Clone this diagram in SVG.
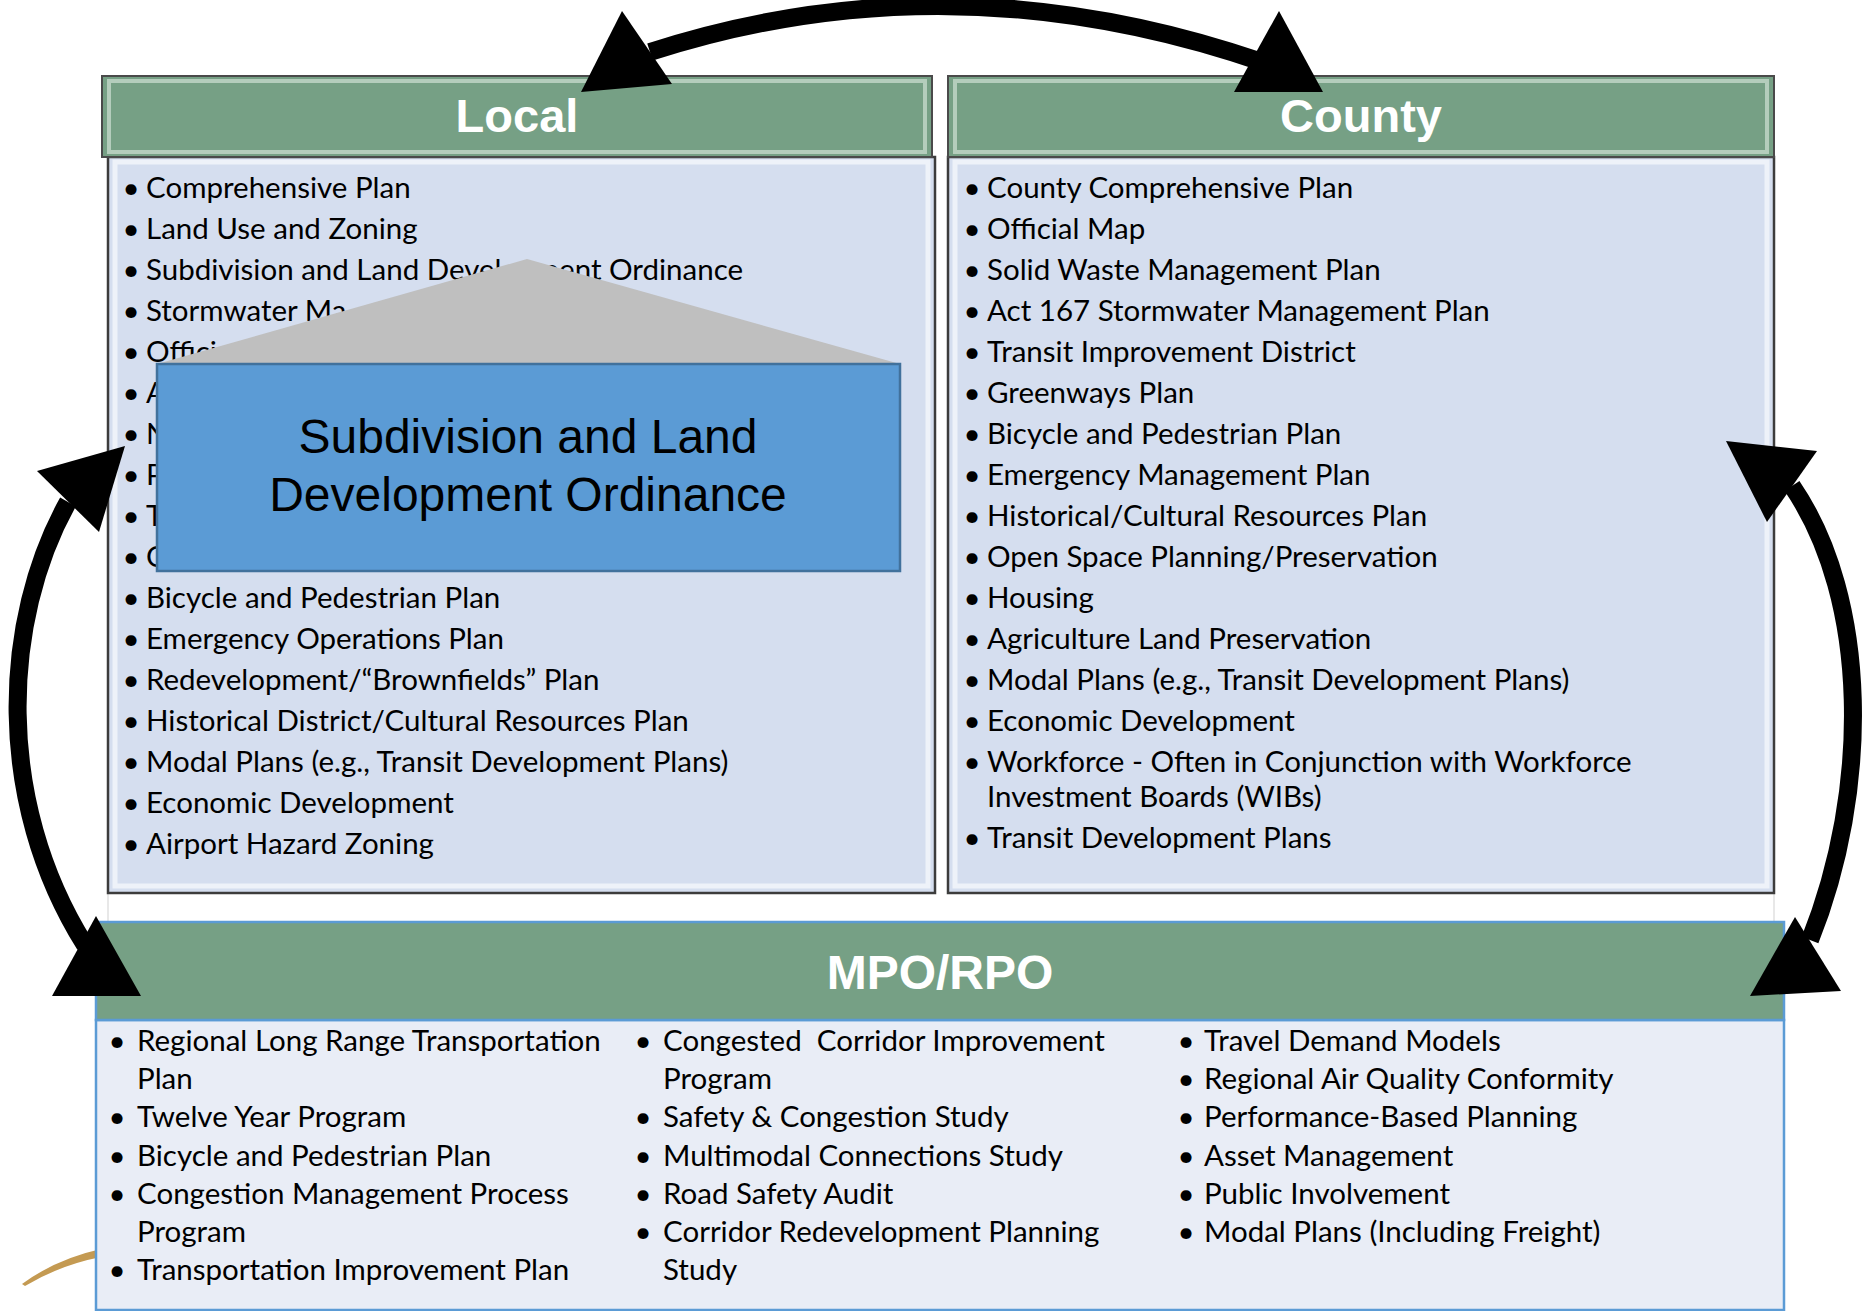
<svg xmlns="http://www.w3.org/2000/svg" width="1865" height="1311" viewBox="0 0 1865 1311">
<style>
.hdr{fill:#76A085;stroke:#4a4a4a;stroke-width:2}
.hdrhl{fill:none;stroke:#e8f2ea;stroke-opacity:.55;stroke-width:4}
.body{fill:#D5DEEF;stroke:#3c3c3c;stroke-width:2.5}
.bodyhl{fill:none;stroke:#ffffff;stroke-opacity:.6;stroke-width:5}
.ttl{font-family:"Liberation Sans",Arial,sans-serif;font-weight:bold;fill:#ffffff;text-anchor:middle}
.li{font-family:Lato,"Liberation Sans",sans-serif;font-size:29.5px;fill:#000}
.bl{text-anchor:middle}
.arc{fill:none;stroke:#000;stroke-width:18}
.head{fill:#000}
</style>
<rect width="1865" height="1311" fill="#ffffff"/>
<path d="M22 1284 Q56 1259 101 1249 L101 1257 Q60 1265 25 1286 Z" fill="#C49A52"/>
<g stroke="#d9d9d9" stroke-width="1.2"><line x1="108" y1="893" x2="108" y2="922"/><line x1="1774" y1="893" x2="1774" y2="922"/></g>

<g id="local">
<rect class="body" x="108" y="157" width="827" height="736"/>
<rect class="bodyhl" x="115" y="162" width="813" height="724"/>
<rect class="hdr" x="102" y="76" width="830" height="81"/>
<rect class="hdrhl" x="109" y="81" width="816" height="71"/>
<text class="ttl" x="517" y="132" font-size="47">Local</text>
<g class="li">
<text y="198"><tspan class="bl" x="131">•</tspan><tspan x="146">Comprehensive Plan</tspan></text>
<text y="239"><tspan class="bl" x="131">•</tspan><tspan x="146">Land Use and Zoning</tspan></text>
<text y="280"><tspan class="bl" x="131">•</tspan><tspan x="146">Subdivision and Land Development Ordinance</tspan></text>
<text y="321"><tspan class="bl" x="131">•</tspan><tspan x="146">Stormwater Ma</tspan></text>
<text y="362"><tspan class="bl" x="131">•</tspan><tspan x="146">Offici</tspan></text>
<text y="403"><tspan class="bl" x="131">•</tspan><tspan x="146">A</tspan></text>
<text y="444"><tspan class="bl" x="131">•</tspan><tspan x="146">N</tspan></text>
<text y="485"><tspan class="bl" x="131">•</tspan><tspan x="146">P</tspan></text>
<text y="526"><tspan class="bl" x="131">•</tspan><tspan x="146">T</tspan></text>
<text y="567"><tspan class="bl" x="131">•</tspan><tspan x="146">C</tspan></text>
<text y="608"><tspan class="bl" x="131">•</tspan><tspan x="146">Bicycle and Pedestrian Plan</tspan></text>
<text y="649"><tspan class="bl" x="131">•</tspan><tspan x="146">Emergency Operations Plan</tspan></text>
<text y="690"><tspan class="bl" x="131">•</tspan><tspan x="146">Redevelopment/“Brownfields” Plan</tspan></text>
<text y="731"><tspan class="bl" x="131">•</tspan><tspan x="146">Historical District/Cultural Resources Plan</tspan></text>
<text y="772"><tspan class="bl" x="131">•</tspan><tspan x="146">Modal Plans (e.g., Transit Development Plans)</tspan></text>
<text y="813"><tspan class="bl" x="131">•</tspan><tspan x="146">Economic Development</tspan></text>
<text y="854"><tspan class="bl" x="131">•</tspan><tspan x="146">Airport Hazard Zoning</tspan></text>
</g>
</g>

<g id="county">
<rect class="body" x="948" y="157" width="826" height="736"/>
<rect class="bodyhl" x="955" y="162" width="812" height="724"/>
<rect class="hdr" x="948" y="76" width="826" height="81"/>
<rect class="hdrhl" x="955" y="81" width="812" height="71"/>
<text class="ttl" x="1361" y="132" font-size="47">County</text>
<g class="li">
<text y="198"><tspan class="bl" x="972">•</tspan><tspan x="987">County Comprehensive Plan</tspan></text>
<text y="239"><tspan class="bl" x="972">•</tspan><tspan x="987">Official Map</tspan></text>
<text y="280"><tspan class="bl" x="972">•</tspan><tspan x="987">Solid Waste Management Plan</tspan></text>
<text y="321"><tspan class="bl" x="972">•</tspan><tspan x="987">Act 167 Stormwater Management Plan</tspan></text>
<text y="362"><tspan class="bl" x="972">•</tspan><tspan x="987">Transit Improvement District</tspan></text>
<text y="403"><tspan class="bl" x="972">•</tspan><tspan x="987">Greenways Plan</tspan></text>
<text y="444"><tspan class="bl" x="972">•</tspan><tspan x="987">Bicycle and Pedestrian Plan</tspan></text>
<text y="485"><tspan class="bl" x="972">•</tspan><tspan x="987">Emergency Management Plan</tspan></text>
<text y="526"><tspan class="bl" x="972">•</tspan><tspan x="987">Historical/Cultural Resources Plan</tspan></text>
<text y="567"><tspan class="bl" x="972">•</tspan><tspan x="987">Open Space Planning/Preservation</tspan></text>
<text y="608"><tspan class="bl" x="972">•</tspan><tspan x="987">Housing</tspan></text>
<text y="649"><tspan class="bl" x="972">•</tspan><tspan x="987">Agriculture Land Preservation</tspan></text>
<text y="690"><tspan class="bl" x="972">•</tspan><tspan x="987">Modal Plans (e.g., Transit Development Plans)</tspan></text>
<text y="731"><tspan class="bl" x="972">•</tspan><tspan x="987">Economic Development</tspan></text>
<text y="772"><tspan class="bl" x="972">•</tspan><tspan x="987">Workforce - Often in Conjunction with Workforce</tspan><tspan x="987" y="807">Investment Boards (WIBs)</tspan></text>
<text y="848"><tspan class="bl" x="972">•</tspan><tspan x="987">Transit Development Plans</tspan></text>
</g>
</g>

<g id="mpo">
<rect x="96" y="1020" width="1688" height="290" fill="#E9EDF6" stroke="#5B9BD5" stroke-width="2.5"/>
<rect x="96" y="922" width="1688" height="98" fill="#76A085" stroke="#5B9BD5" stroke-width="2.5"/>
<text class="ttl" x="940" y="989" font-size="48">MPO/RPO</text>
<g class="li">
<text y="1051"><tspan class="bl" x="117">•</tspan><tspan x="137">Regional Long Range Transportation</tspan><tspan x="137" y="1089">Plan</tspan></text>
<text y="1127"><tspan class="bl" x="117">•</tspan><tspan x="137">Twelve Year Program</tspan></text>
<text y="1166"><tspan class="bl" x="117">•</tspan><tspan x="137">Bicycle and Pedestrian Plan</tspan></text>
<text y="1204"><tspan class="bl" x="117">•</tspan><tspan x="137">Congestion Management Process</tspan><tspan x="137" y="1242">Program</tspan></text>
<text y="1280"><tspan class="bl" x="117">•</tspan><tspan x="137">Transportation Improvement Plan</tspan></text>
<text y="1051" xml:space="preserve"><tspan class="bl" x="643">•</tspan><tspan x="663">Congested  Corridor Improvement</tspan><tspan x="663" y="1089">Program</tspan></text>
<text y="1127"><tspan class="bl" x="643">•</tspan><tspan x="663">Safety &amp; Congestion Study</tspan></text>
<text y="1166"><tspan class="bl" x="643">•</tspan><tspan x="663">Multimodal Connections Study</tspan></text>
<text y="1204"><tspan class="bl" x="643">•</tspan><tspan x="663">Road Safety Audit</tspan></text>
<text y="1242"><tspan class="bl" x="643">•</tspan><tspan x="663">Corridor Redevelopment Planning</tspan><tspan x="663" y="1280">Study</tspan></text>
<text y="1051"><tspan class="bl" x="1186">•</tspan><tspan x="1204">Travel Demand Models</tspan></text>
<text y="1089"><tspan class="bl" x="1186">•</tspan><tspan x="1204">Regional Air Quality Conformity</tspan></text>
<text y="1127"><tspan class="bl" x="1186">•</tspan><tspan x="1204">Performance-Based Planning</tspan></text>
<text y="1166"><tspan class="bl" x="1186">•</tspan><tspan x="1204">Asset Management</tspan></text>
<text y="1204"><tspan class="bl" x="1186">•</tspan><tspan x="1204">Public Involvement</tspan></text>
<text y="1242"><tspan class="bl" x="1186">•</tspan><tspan x="1204">Modal Plans (Including Freight)</tspan></text>
</g>
</g>

<g id="callout">
<polygon points="527,259 157,364 900,364" fill="#BFBFBF"/>
<rect x="157" y="364" width="743" height="207" fill="#5B9BD5" stroke="#41719C" stroke-width="2.5"/>
<text font-family="Liberation Sans,Arial,sans-serif" font-size="48" text-anchor="middle" fill="#000"><tspan x="528" y="453">Subdivision and Land</tspan><tspan x="528" y="511">Development Ordinance</tspan></text>
</g>

<g id="connectors">
<path class="arc" d="M650 52 Q950 -45 1262 62"/>
<path class="arc" d="M68 502 C2 620 -6 800 85 945"/>
<path class="arc" d="M1792 486 C1870 600 1870 790 1810 940"/>
<polygon class="head" points="581,92 622,11 672,84"/>
<polygon class="head" points="1279,11 1234,92 1323,92"/>
<polygon class="head" points="125,446 37,471 99,532"/>
<polygon class="head" points="96,916 52,996 141,996"/>
<polygon class="head" points="1726,441 1817,451 1767,522"/>
<polygon class="head" points="1795,917 1750,996 1841,991"/>
</g>
</svg>
